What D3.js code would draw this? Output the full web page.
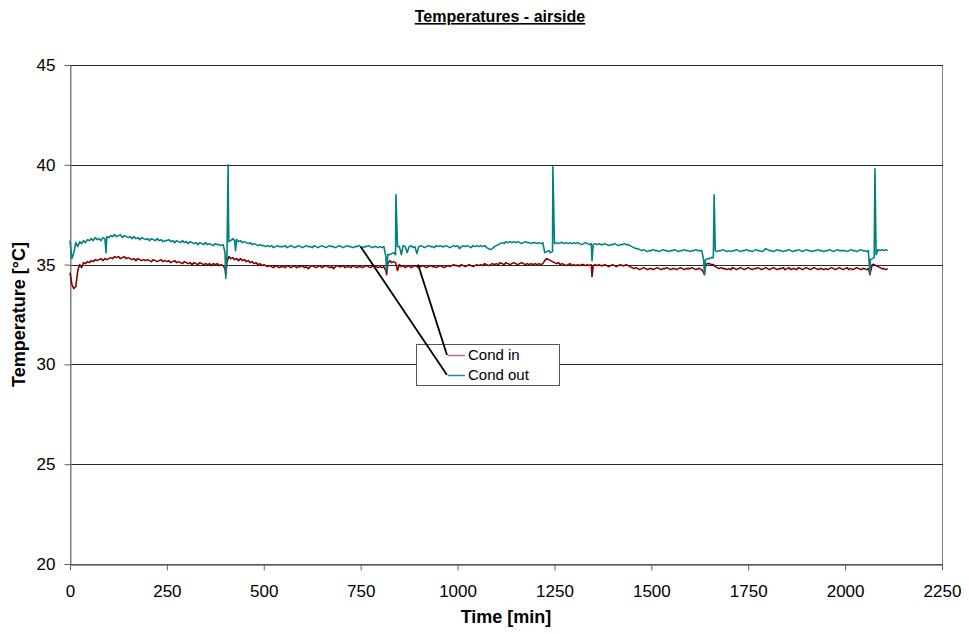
<!DOCTYPE html>
<html>
<head>
<meta charset="utf-8">
<script src="https://cdn.jsdelivr.net/npm/d3@7/dist/d3.min.js"></script>
<style>
  body { margin: 0; background: #fff; }
  text { font-family: Arial, "Liberation Sans", sans-serif; }
</style>
</head>
<body>
<svg id="chart" width="969" height="634"></svg>
<script>
// ---- data -------------------------------------------------------------
const chartTitle = "Temperatures - airside";
const xLabel = "Time [min]";
const yLabel = "Temperature [°C]";
const xTicks = [0, 250, 500, 750, 1000, 1250, 1500, 1750, 2000, 2250];
const yTicks = [20, 25, 30, 35, 40, 45];
const seriesNames = ["Cond in", "Cond out"];

// logged every 5 minutes, starting at minute 0
const sampleStep = 5;

const condIn = [
  34.6, 34.0, 33.8, 33.9, 34.7, 35.0, 34.85, 35.1, 35.05, 35.15,
  35.1, 35.2, 35.15, 35.25, 35.2, 35.25, 35.3, 35.2, 35.3, 35.25,
  35.3, 35.35, 35.3, 35.4, 35.35, 35.4, 35.3, 35.35, 35.4, 35.3,
  35.35, 35.3, 35.25, 35.3, 35.2, 35.3, 35.25, 35.2, 35.25, 35.2,
  35.25, 35.2, 35.15, 35.25, 35.2, 35.15, 35.2, 35.25, 35.15, 35.2,
  35.15, 35.2, 35.1, 35.15, 35.2, 35.1, 35.15, 35.1, 35.05, 35.15,
  35.1, 35.05, 35.1, 35.0, 35.1, 35.05, 35.0, 35.1, 35.05, 35.0,
  35.05, 35.0, 35.05, 34.95, 35.05, 35.0, 35.05, 34.95, 35.0, 34.95,
  34.8, 35.15, 35.4, 35.3, 35.35, 35.25, 35.3, 35.2, 35.3, 35.2,
  35.25, 35.15, 35.2, 35.1, 35.15, 35.05, 35.1, 35.0, 35.05, 34.95,
  35.0, 34.95, 34.9, 34.95, 34.9, 34.85, 34.95, 34.9, 34.85, 34.9,
  34.9, 34.85, 34.95, 34.9, 34.85, 34.9, 34.95, 34.85, 34.9, 34.9,
  34.95, 34.85, 34.9, 34.8, 34.9, 34.95, 34.9, 34.85, 34.9, 34.95,
  34.85, 34.9, 34.95, 34.9, 34.85, 34.9, 34.8, 34.9, 34.95, 34.9,
  34.9, 34.95, 34.85, 34.9, 34.9, 34.85, 34.95, 34.9, 34.85, 34.9,
  34.9, 34.85, 34.9, 34.95, 34.9, 34.85, 34.9, 34.95, 34.9, 34.85,
  34.9, 34.85, 34.9, 34.7, 35.05, 35.2, 35.1, 35.15, 35.1, 34.7,
  35.0, 34.9, 34.95, 34.85, 34.9, 34.95, 34.85, 34.9, 34.95, 34.9,
  34.85, 34.9, 34.95, 34.9, 34.85, 34.9, 34.95, 34.9, 34.9, 34.85,
  34.9, 34.95, 34.9, 34.85, 34.9, 34.95, 34.9, 34.95, 35.0, 34.95,
  34.95, 34.9, 35.0, 34.95, 34.9, 34.95, 35.0, 34.95, 34.9, 34.95,
  35.0, 34.95, 35.0, 34.95, 35.05, 35.0, 34.95, 35.0, 35.05, 35.0,
  35.05, 35.0, 35.1, 35.05, 35.0, 35.1, 35.05, 35.0, 35.05, 35.1,
  35.05, 35.0, 35.05, 35.1, 35.05, 35.0, 35.05, 35.0, 35.05, 35.0,
  35.05, 35.0, 35.05, 35.0, 35.05, 35.2, 35.3, 35.25, 35.2, 35.15,
  35.1, 35.05, 35.1, 35.0, 35.05, 35.0, 34.95, 35.0, 35.05, 34.95,
  35.0, 34.95, 35.0, 34.95, 35.0, 35.0, 34.95, 35.0, 34.95, 35.0,
  34.95, 35.0, 34.95, 35.0, 34.95, 34.95, 35.0, 34.95, 34.9, 34.95,
  35.0, 34.95, 34.9, 34.95, 35.0, 34.95, 34.95, 35.0, 34.95, 34.9,
  34.85, 34.8, 34.85, 34.8, 34.75, 34.8, 34.85, 34.8, 34.75, 34.8,
  34.8, 34.75, 34.8, 34.85, 34.8, 34.75, 34.8, 34.8, 34.85, 34.8,
  34.75, 34.8, 34.8, 34.75, 34.8, 34.85, 34.8, 34.75, 34.8, 34.8,
  34.8, 34.85, 34.8, 34.75, 34.8, 34.8, 34.75, 34.6, 35.0, 35.05,
  35.05, 35.0, 35.0, 34.9, 34.85, 34.8, 34.85, 34.8, 34.8, 34.75,
  34.8, 34.75, 34.85, 34.8, 34.75, 34.8, 34.85, 34.8, 34.75, 34.8,
  34.85, 34.8, 34.75, 34.8, 34.8, 34.85, 34.8, 34.75, 34.8, 34.85,
  34.8, 34.75, 34.8, 34.85, 34.8, 34.75, 34.8, 34.8, 34.85, 34.75,
  34.8, 34.85, 34.75, 34.8, 34.8, 34.75, 34.85, 34.8, 34.75, 34.8,
  34.85, 34.8, 34.75, 34.8, 34.85, 34.8, 34.75, 34.8, 34.8, 34.75,
  34.8, 34.75, 34.8, 34.85, 34.8, 34.75, 34.8, 34.85, 34.8, 34.75,
  34.8, 34.85, 34.75, 34.8, 34.75, 34.8, 34.85, 34.8, 34.75, 34.8,
  34.8, 34.75, 34.8, 34.6, 35.0, 35.0, 34.95, 34.9, 34.85, 34.8,
  34.8, 34.75, 34.8
];

const condOut = [
  36.2, 35.3, 35.6, 36.1, 35.9, 36.15, 36.05, 36.2, 36.1, 36.25,
  36.2, 36.3, 36.2, 36.35, 36.25, 36.3, 36.2, 36.35, 36.3, 36.4,
  36.35, 36.45, 36.4, 36.5, 36.4, 36.45, 36.5, 36.35, 36.45, 36.4,
  36.35, 36.4, 36.3, 36.4, 36.3, 36.35, 36.25, 36.35, 36.3, 36.25,
  36.3, 36.2, 36.3, 36.25, 36.2, 36.3, 36.2, 36.25, 36.15, 36.2,
  36.2, 36.25, 36.15, 36.2, 36.1, 36.2, 36.15, 36.1, 36.2, 36.1,
  36.15, 36.05, 36.15, 36.1, 36.05, 36.1, 36.0, 36.1, 36.05, 36.0,
  36.1, 36.0, 36.05, 36.0, 35.95, 36.05, 36.0, 36.0, 35.95, 36.0,
  35.6, 35.5, 36.15, 36.2, 36.3, 36.2, 36.25, 36.15, 36.2, 36.1,
  36.15, 36.1, 36.05, 36.1, 36.0, 36.05, 36.0, 35.95, 36.0, 35.95,
  35.95, 35.9, 35.95, 35.9, 35.95, 35.85, 35.9, 35.95, 35.9, 35.9,
  35.9, 35.95, 35.85, 35.9, 35.95, 35.9, 35.85, 35.9, 35.95, 35.9,
  35.85, 35.9, 35.95, 35.9, 35.9, 35.85, 35.95, 35.9, 35.85, 35.9,
  35.95, 35.9, 35.85, 35.9, 35.95, 35.9, 35.9, 35.85, 35.9, 35.95,
  35.9, 35.85, 35.9, 35.95, 35.9, 35.9, 35.85, 35.9, 35.9, 35.95,
  35.9, 35.85, 35.9, 35.9, 35.95, 35.9, 35.85, 35.9, 35.9, 35.85,
  35.9, 35.85, 35.9, 35.4, 35.5, 35.5, 35.55, 35.6, 35.5, 35.9,
  35.9, 35.5, 35.95, 35.9, 35.6, 35.9, 35.95, 35.85, 35.9, 35.55,
  35.9, 35.95, 35.9, 35.85, 35.9, 35.95, 35.9, 35.9, 35.85, 35.95,
  35.9, 35.95, 35.9, 35.9, 35.95, 35.9, 35.85, 35.9, 35.95, 35.9,
  35.95, 35.8, 35.9, 35.95, 35.9, 35.95, 35.9, 35.85, 35.95, 35.9,
  35.95, 35.9, 35.95, 35.9, 35.95, 35.85, 35.8, 35.75, 35.8, 35.9,
  35.95, 36.0, 36.05, 36.1, 36.05, 36.15, 36.1, 36.15, 36.1, 36.15,
  36.1, 36.15, 36.1, 36.05, 36.1, 36.15, 36.1, 36.1, 36.05, 36.1,
  36.1, 36.05, 36.1, 36.05, 36.1, 35.6, 35.65, 35.7, 35.6, 35.65,
  36.05, 36.1, 36.05, 36.1, 36.1, 36.05, 36.1, 36.05, 36.1, 36.05,
  36.1, 36.05, 36.1, 36.05, 36.0, 36.05, 36.1, 36.05, 36.0, 36.05,
  36.0, 36.05, 36.0, 36.05, 36.0, 36.0, 36.05, 36.0, 35.95, 36.0,
  36.0, 36.05, 36.0, 35.95, 36.0, 36.0, 36.05, 36.0, 36.0, 35.95,
  35.9, 35.85, 35.8, 35.8, 35.75, 35.7, 35.75, 35.7, 35.65, 35.7,
  35.7, 35.75, 35.7, 35.7, 35.65, 35.7, 35.75, 35.7, 35.7, 35.65,
  35.7, 35.7, 35.75, 35.7, 35.65, 35.7, 35.7, 35.75, 35.7, 35.7,
  35.65, 35.7, 35.7, 35.75, 35.7, 35.7, 35.7, 35.25, 35.25, 35.3,
  35.3, 35.35, 35.35, 35.7, 35.65, 35.7, 35.7, 35.75, 35.7, 35.65,
  35.7, 35.65, 35.7, 35.7, 35.75, 35.7, 35.65, 35.7, 35.7, 35.75,
  35.7, 35.7, 35.65, 35.7, 35.75, 35.7, 35.7, 35.65, 35.7, 35.8,
  35.75, 35.7, 35.7, 35.65, 35.7, 35.75, 35.7, 35.7, 35.65, 35.7,
  35.7, 35.75, 35.7, 35.65, 35.7, 35.7, 35.75, 35.7, 35.65, 35.7,
  35.75, 35.7, 35.7, 35.65, 35.7, 35.7, 35.75, 35.7, 35.7, 35.65,
  35.7, 35.7, 35.75, 35.7, 35.65, 35.7, 35.75, 35.7, 35.7, 35.7,
  35.7, 35.65, 35.7, 35.75, 35.7, 35.7, 35.65, 35.7, 35.75, 35.7,
  35.7, 35.65, 35.7, 35.25, 35.3, 35.35, 35.5, 35.75, 35.7, 35.75,
  35.7, 35.75, 35.7
];

// short transients logged between the regular samples: [minute, °C]
const condInEvents = [
  [402, 34.5], [817, 34.5], [1347, 34.4], [1637, 34.5], [2064, 34.5]
];
const condOutEvents = [
  [93, 35.6], [402, 34.3], [408, 40.0], [409, 37.3], [427, 35.7],
  [817, 34.7], [841, 38.5], [1246, 39.9], [1347, 35.2],
  [1637, 34.5], [1662, 38.5], [2064, 34.5], [2077, 39.8]
];

// points on each curve that the legend's leader lines point at: [minute, °C]
const leaderTargets = [[898, 35.0], [750, 35.9]];

const seriesColors = ["#800000", "#008080"];
const swatchColors = ["#c07070", "#1a9090"];

// ---- layout -----------------------------------------------------------
const svg = d3.select("#chart");
const plot = { left: 70, right: 942, top: 65, bottom: 564 };

const x = d3.scaleLinear().domain([0, 2250]).range([plot.left, plot.right]);
const y = d3.scaleLinear().domain([20, 45]).range([plot.bottom, plot.top]);

function buildSeries(values, events) {
  return values.map((v, i) => [i * sampleStep, v])
    .concat(events)
    .sort((a, b) => a[0] - b[0]);
}
const series = [buildSeries(condIn, condInEvents), buildSeries(condOut, condOutEvents)];

// plot frame
svg.append("rect")
  .attr("x", plot.left + 0.5).attr("y", plot.top + 0.5)
  .attr("width", plot.right - plot.left).attr("height", plot.bottom - plot.top)
  .attr("fill", "#fff").attr("stroke", "#808080").attr("stroke-width", 1);

// horizontal gridlines
svg.append("g").selectAll("line")
  .data(yTicks.filter(t => t > 20))
  .join("line")
  .attr("x1", plot.left).attr("x2", plot.right + 1)
  .attr("y1", d => Math.round(y(d)) + 0.5).attr("y2", d => Math.round(y(d)) + 0.5)
  .attr("stroke", "#2a2a2a").attr("stroke-width", 1);

// axes
const labelFont = "Arial, 'Liberation Sans', sans-serif";
const xAxis = svg.append("g")
  .attr("transform", `translate(0,${plot.bottom + 0.5})`)
  .call(d3.axisBottom(x).tickValues(xTicks).tickFormat(d3.format("d"))
    .tickSize(6).tickPadding(14).tickSizeOuter(0));
xAxis.select(".domain").attr("stroke", "#2a2a2a");
xAxis.selectAll(".tick line").attr("stroke", "#606060");
xAxis.selectAll("text").attr("font-size", 17).attr("fill", "#000")
  .style("font-family", labelFont);

const yAxis = svg.append("g")
  .attr("transform", `translate(${plot.left + 0.5},0)`)
  .call(d3.axisLeft(y).tickValues(yTicks).tickFormat(d3.format("d"))
    .tickSize(6).tickPadding(9).tickSizeOuter(0));
yAxis.select(".domain").attr("stroke", "#808080");
yAxis.selectAll(".tick line").attr("stroke", "#606060");
yAxis.selectAll("text").attr("font-size", 17).attr("fill", "#000")
  .style("font-family", labelFont);

// series lines
const line = d3.line().x(d => x(d[0])).y(d => y(d[1]));
svg.append("g").selectAll("path")
  .data(series)
  .join("path")
  .attr("d", line)
  .attr("fill", "none")
  .attr("stroke", (d, i) => seriesColors[i])
  .attr("stroke-width", 1.6)
  .attr("stroke-linejoin", "round");

// legend box with leader lines
const legend = { x: 416, y: 344, w: 143, h: 41 };
const rowY = [355, 375];
const swatchX = [447, 465];

svg.append("rect")
  .attr("x", legend.x + 0.5).attr("y", legend.y + 0.5)
  .attr("width", legend.w).attr("height", legend.h)
  .attr("fill", "#fff").attr("stroke", "#555").attr("stroke-width", 1);

svg.append("g").selectAll("line")
  .data(leaderTargets)
  .join("line")
  .attr("x1", d => x(d[0])).attr("y1", d => y(d[1]))
  .attr("x2", swatchX[0]).attr("y2", (d, i) => rowY[i])
  .attr("stroke", "#000").attr("stroke-width", 1.8);

const rows = svg.append("g").selectAll("g")
  .data(seriesNames)
  .join("g");
rows.append("line")
  .attr("x1", swatchX[0] + 1).attr("x2", swatchX[1])
  .attr("y1", (d, i) => rowY[i] + 0.5).attr("y2", (d, i) => rowY[i] + 0.5)
  .attr("stroke", (d, i) => swatchColors[i]).attr("stroke-width", 1.5);
rows.append("text")
  .attr("x", 468).attr("y", (d, i) => rowY[i])
  .attr("dy", "0.36em")
  .attr("font-size", 15)
  .text(d => d);

// titles
svg.append("text")
  .attr("x", 500).attr("y", 22)
  .attr("text-anchor", "middle")
  .attr("font-size", 16).attr("font-weight", "bold")
  .attr("text-decoration", "underline")
  .text(chartTitle);

svg.append("text")
  .attr("x", (plot.left + plot.right) / 2).attr("y", 623)
  .attr("text-anchor", "middle")
  .attr("font-size", 18).attr("font-weight", "bold")
  .text(xLabel);

svg.append("text")
  .attr("transform", `translate(25,${(plot.top + plot.bottom) / 2}) rotate(-90)`)
  .attr("text-anchor", "middle")
  .attr("font-size", 18).attr("font-weight", "bold")
  .text(yLabel);
</script>
</body>
</html>
